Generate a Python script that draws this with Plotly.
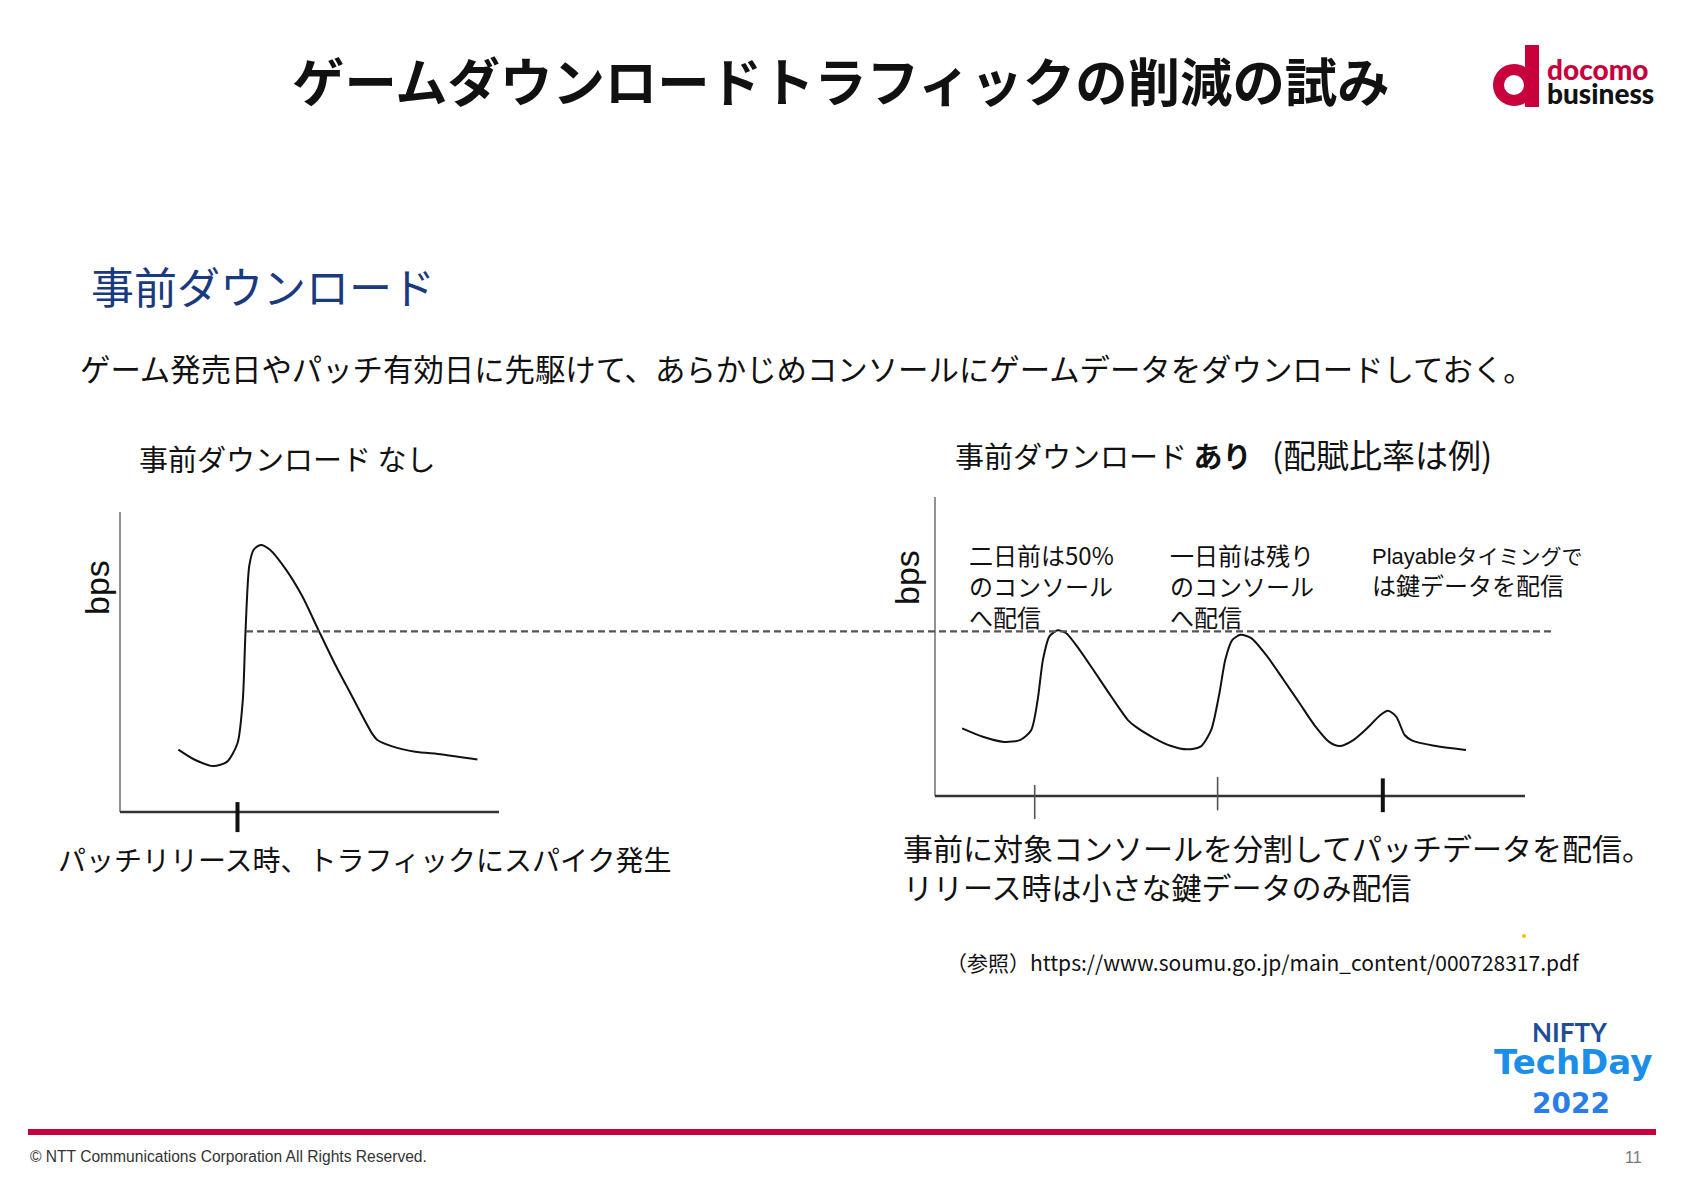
import plotly.graph_objects as go

W, H = 1684, 1190

# ---------------- data (arbitrary units: time, bps) ----------------
left_t = [15.4, 19.6, 24.6, 28.2, 31.0, 32.4, 33.1, 34.1, 35.3, 37.1, 39.5,
          43.8, 48.1, 52.3, 56.6, 60.8, 66.5, 67.9, 72.2, 77.9, 85.0, 94.3]
left_bps = [20.8, 17.5, 15.3, 16.7, 22.9, 37.3, 59.7, 82.0, 87.5, 89.0, 87.5,
            80.8, 71.9, 60.8, 49.6, 39.6, 26.2, 24.0, 21.7, 20.1, 19.2, 17.5]

right_t = [4.6, 8.1, 11.7, 14.4, 16.3, 17.4, 18.3, 19.4, 20.8, 22.2, 24.5, 27.2,
           29.9, 32.7, 34.0, 37.2, 39.9, 42.7, 45.0, 46.8, 48.2, 49.2, 50.4, 51.8,
           53.6, 56.3, 59.1, 61.8, 64.5, 66.8, 68.6, 70.9, 73.2, 75.5, 76.8, 78.2,
           79.6, 80.9, 84.6, 90.0]
right_bps = [22.6, 19.8, 18.1, 18.7, 22.0, 32.1, 45.6, 53.4, 55.4, 54.5, 48.9, 41.1,
             33.2, 25.4, 23.2, 19.3, 16.8, 15.6, 16.5, 22.0, 34.3, 45.6, 52.2, 53.9,
             52.8, 46.7, 38.8, 31.0, 23.2, 18.1, 16.7, 18.7, 22.6, 27.1, 28.5, 26.5,
             20.4, 18.5, 16.8, 15.4]

left_release_t = [31.0]                 # patch release
right_dist_t = [16.9, 47.9]             # pre-distribution days
right_release_t = [75.9]                # playable timing
threshold_bps = 60.2                    # capacity line (left-axis units)

title = "ゲームダウンロードトラフィックの削減の試み"
heading = "事前ダウンロード"
lead = "ゲーム発売日やパッチ有効日に先駆けて、あらかじめコンソールにゲームデータをダウンロードしておく。"
left_title = "事前ダウンロード なし"
right_title = ("事前ダウンロード <b>あり</b>  "
               "<span style='font-size:33px'> (配賦比率は例)</span>")
left_caption = "パッチリリース時、トラフィックにスパイク発生"
right_caption = "事前に対象コンソールを分割してパッチデータを配信。<br>リリース時は小さな鍵データのみ配信"
notes = ["二日前は50%<br>のコンソール<br>へ配信",
         "一日前は残り<br>のコンソール<br>へ配信",
         "<span style='font-family:Liberation Sans, Arial;font-size:22px'>Playable</span>"
         "<span style='font-size:21px'>タイミングで</span><br>は鍵データを配信"]
ref_text = "（参照）https://www.soumu.go.jp/main_content/000728317.pdf"
footer = "© NTT Communications Corporation All Rights Reserved."
page_no = "11"

JP = "Noto Sans CJK JP"
ARIAL = "Liberation Sans, Arial"


def px(x):
    return x / W


def py(y):
    return 1 - y / H


def xaxis_cfg(dom0, dom1, origin, ppu):
    return dict(domain=[dom0 / W, dom1 / W],
                range=[(dom0 - origin) / ppu, (dom1 - origin) / ppu],
                visible=False, fixedrange=True)


def yaxis_cfg(top, bottom, origin, ppu):
    return dict(domain=[1 - bottom / H, 1 - top / H],
                range=[(origin - bottom) / ppu, (origin - top) / ppu],
                visible=False, fixedrange=True)


fig = go.Figure()

# ---------------- left chart ----------------
fig.add_trace(go.Scatter(x=[0, 0], y=[0, 100], mode="lines",
                         line=dict(color="#777777", width=1.6),
                         xaxis="x", yaxis="y", hoverinfo="skip"))
fig.add_trace(go.Scatter(x=[0, 100], y=[0, 0], mode="lines",
                         line=dict(color="#333333", width=2.4),
                         xaxis="x", yaxis="y", hoverinfo="skip"))
for t in left_release_t:
    fig.add_trace(go.Scatter(x=[t, t], y=[-6.7, 3.3], mode="lines",
                             line=dict(color="#111111", width=4),
                             xaxis="x", yaxis="y", hoverinfo="skip"))
fig.add_trace(go.Scatter(x=left_t, y=left_bps, mode="lines",
                         line=dict(color="#111111", width=2, shape="spline", smoothing=0.7),
                         xaxis="x", yaxis="y", hoverinfo="skip"))

# ---------------- right chart ----------------
fig.add_trace(go.Scatter(x=[0, 0], y=[0, 100], mode="lines",
                         line=dict(color="#777777", width=1.6),
                         xaxis="x2", yaxis="y2", hoverinfo="skip"))
fig.add_trace(go.Scatter(x=[0, 100], y=[0, 0], mode="lines",
                         line=dict(color="#333333", width=2.4),
                         xaxis="x2", yaxis="y2", hoverinfo="skip"))
for t, (lo, hi) in zip(right_dist_t, [(-7.7, 3.7), (-4.8, 6.4)]):
    fig.add_trace(go.Scatter(x=[t, t], y=[lo, hi], mode="lines",
                             line=dict(color="#555555", width=1.6),
                             xaxis="x2", yaxis="y2", hoverinfo="skip"))
for t in right_release_t:
    fig.add_trace(go.Scatter(x=[t, t], y=[-5.4, 5.9], mode="lines",
                             line=dict(color="#111111", width=4),
                             xaxis="x2", yaxis="y2", hoverinfo="skip"))
fig.add_trace(go.Scatter(x=right_t, y=right_bps, mode="lines",
                         line=dict(color="#111111", width=2, shape="spline", smoothing=0.7),
                         xaxis="x2", yaxis="y2", hoverinfo="skip"))

shapes = [
    # capacity threshold line spanning both charts
    dict(type="line", xref="paper", yref="y", x0=px(246), x1=px(1553),
         y0=threshold_bps, y1=threshold_bps,
         line=dict(color="#555555", width=2.2, dash="7px,4px")),
    # footer rule
    dict(type="line", xref="paper", yref="paper", x0=px(28), x1=px(1656),
         y0=py(1132), y1=py(1132), line=dict(color="#c8003c", width=6)),
    # docomo "d" mark
    dict(type="circle", xref="paper", yref="paper",
         x0=px(1514 - 15.5), x1=px(1514 + 15.5), y0=py(85 + 15.5), y1=py(85 - 15.5),
         line=dict(color="#c8003c", width=11)),
    dict(type="rect", xref="paper", yref="paper",
         x0=px(1525), x1=px(1539), y0=py(107), y1=py(45),
         fillcolor="#c8003c", line=dict(width=0)),
    # small yellow speck
    dict(type="circle", xref="paper", yref="paper",
         x0=px(1522), x1=px(1526), y0=py(938), y1=py(934),
         fillcolor="#f2c200", line=dict(width=0)),
]

ann = []


def add_text(text, x, y, size, color="#111111", family=JP, xanchor="left",
             yanchor="middle", align="left", angle=0, weight=None):
    f = dict(size=size, color=color, family=family)
    if weight:
        f["weight"] = weight
    ann.append(dict(text=text, x=px(x), y=py(y), xref="paper", yref="paper",
                    xanchor=xanchor, yanchor=yanchor, align=align, showarrow=False,
                    textangle=angle, font=f))


add_text("<b>" + title + "</b>", 841, 79, 52.4, xanchor="center")
add_text(heading, 89, 285, 43, color="#1a3a80")
add_text(lead, 78, 368, 30.4)
add_text(left_title, 137, 458, 29)
add_text(right_title, 953, 454, 29)
add_text("bps", 97, 588, 34, family=ARIAL, xanchor="center", angle=-90)
add_text("bps", 907, 577, 34, family=ARIAL, xanchor="center", angle=-90)
add_text(notes[0], 967, 585, 24)
add_text(notes[1], 1168, 585, 24)
add_text(notes[2], 1370, 571, 24)
add_text(left_caption, 56, 859, 28)
add_text(right_caption, 901, 866, 30)
add_text(ref_text, 944, 962, 21)
add_text(footer, 28, 1156, 15.6, color="#333333", family=ARIAL)
add_text(page_no, 1644, 1157, 16, color="#777777", family=ARIAL, xanchor="right")
# logos
add_text("docomo", 1545, 69, 28, color="#c8003c", family="Lato", weight=900)
add_text("business", 1545, 93, 28, color="#111111", family="Lato", weight=900)
add_text("<b>NIFTY</b>", 1570, 1032, 26, color="#1e4e9a", family="Lato", xanchor="center")
add_text("<b>TechDay</b>", 1573, 1062, 34, color="#1a8ee8", family="DejaVu Sans", xanchor="center")
add_text("<b>2022</b>", 1571, 1103, 28, color="#2a7ce8", family="DejaVu Sans", xanchor="center")

fig.update_layout(
    width=W, height=H, margin=dict(l=0, r=0, t=0, b=0),
    paper_bgcolor="white", plot_bgcolor="rgba(0,0,0,0)",
    showlegend=False,
    xaxis=xaxis_cfg(90, 530, 120, 3.79),
    yaxis=yaxis_cfg(470, 850, 812, 3.0),
    xaxis2=dict(xaxis_cfg(900, 1600, 935, 5.9), anchor="y2"),
    yaxis2=dict(yaxis_cfg(460, 840, 796, 2.99), anchor="x2"),
    shapes=shapes, annotations=ann,
)

fig.write_html("out.html", config={"displayModeBar": False},
               post_script="document.body.style.margin='0';document.body.style.overflow='hidden';")
